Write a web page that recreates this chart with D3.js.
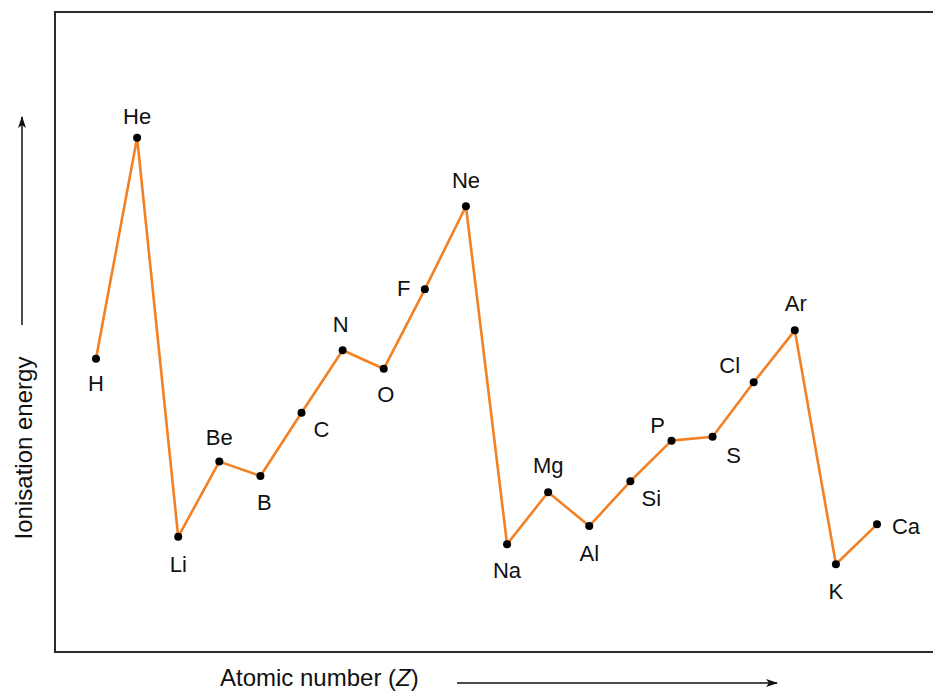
<!DOCTYPE html>
<html>
<head>
<meta charset="utf-8">
<script src="https://cdn.jsdelivr.net/npm/d3@7"></script>
<style>
  html, body { margin: 0; padding: 0; background: #fff; }
  svg { display: block; }
  text { font-family: "Liberation Sans", Arial, Helvetica, sans-serif; fill: #111; }
</style>
</head>
<body>
<svg id="chart" width="933" height="692"></svg>
<script>
// First ionisation energies of elements 1–20 (relative units, roughly kJ/mol)
const symbols = ["H","He","Li","Be","B","C","N","O","F","Ne","Na","Mg","Al","Si","P","S","Cl","Ar","K","Ca"];
const atomicNumbers = d3.range(1, 21);
const ionisationEnergy = [1360, 2372, 545, 889, 823, 1113, 1399, 1314, 1678, 2058,
                          511, 749, 594, 799, 985, 1003, 1252, 1490, 419, 602];

// Where each element's symbol sits relative to its point: [dx, dy to baseline]
const labelOffsets = {
  H: [0, 32], He: [0, -14], Li: [0, 35], Be: [0, -17], B: [4, 34],
  C: [20, 24], N: [-2, -18], O: [2, 33], F: [-21, 7], Ne: [0, -18],
  Na: [0, 34], Mg: [0, -19], Al: [0, 35], Si: [21, 25], P: [-14, -8],
  S: [21, 26], Cl: [-24, -9], Ar: [1, -19], K: [0, 35], Ca: [29, 10]
};

const data = symbols.map((s, i) => ({ sym: s, z: atomicNumbers[i], e: ionisationEnergy[i] }));

const svg = d3.select("#chart");

const x = d3.scaleLinear().domain([1, 20]).range([96, 877]);
const y = d3.scaleLinear().domain([0, 2372]).range([655.8, 137.7]);

// Plot frame (open on the right where it runs off the page)
svg.append("rect")
  .attr("x", 55).attr("y", 12)
  .attr("width", 920).attr("height", 640)
  .attr("fill", "none")
  .attr("stroke", "#2b2b2b")
  .attr("stroke-width", 2);

// Arrow marker for the axis direction lines
const defs = svg.append("defs");
defs.append("marker")
  .attr("id", "arrow")
  .attr("viewBox", "0 0 12 8")
  .attr("refX", 11).attr("refY", 4)
  .attr("markerWidth", 12).attr("markerHeight", 8)
  .attr("markerUnits", "userSpaceOnUse")
  .attr("orient", "auto")
  .append("path")
  .attr("d", "M0,0 L12,4 L0,8 L3,4 Z")
  .attr("fill", "#111");

// Vertical axis: arrow and title
svg.append("line")
  .attr("x1", 22).attr("y1", 325)
  .attr("x2", 22).attr("y2", 117)
  .attr("stroke", "#111").attr("stroke-width", 1.5)
  .attr("marker-end", "url(#arrow)");

svg.append("text")
  .attr("transform", "translate(32,448) rotate(-90)")
  .attr("text-anchor", "middle")
  .style("font-size", "24px")
  .text("Ionisation energy");

// Horizontal axis: title and arrow
const xt = svg.append("text")
  .attr("x", 220).attr("y", 686)
  .style("font-size", "24px");
xt.append("tspan").text("Atomic number (");
xt.append("tspan").style("font-style", "italic").text("Z");
xt.append("tspan").text(")");

svg.append("line")
  .attr("x1", 457).attr("y1", 683)
  .attr("x2", 777).attr("y2", 683)
  .attr("stroke", "#111").attr("stroke-width", 1.5)
  .attr("marker-end", "url(#arrow)");

// Trend line
const line = d3.line().x(d => x(d.z)).y(d => y(d.e));
svg.append("path")
  .datum(data)
  .attr("d", line)
  .attr("fill", "none")
  .attr("stroke", "#f28025")
  .attr("stroke-width", 2.6)
  .attr("stroke-linejoin", "round");

// Points
svg.append("g").selectAll("circle")
  .data(data)
  .join("circle")
  .attr("cx", d => x(d.z))
  .attr("cy", d => y(d.e))
  .attr("r", 4)
  .attr("fill", "#000");

// Element symbols
svg.append("g").selectAll("text")
  .data(data)
  .join("text")
  .attr("x", d => x(d.z) + labelOffsets[d.sym][0])
  .attr("y", d => y(d.e) + labelOffsets[d.sym][1])
  .attr("text-anchor", "middle")
  .style("font-size", "22px")
  .text(d => d.sym);
</script>
</body>
</html>
